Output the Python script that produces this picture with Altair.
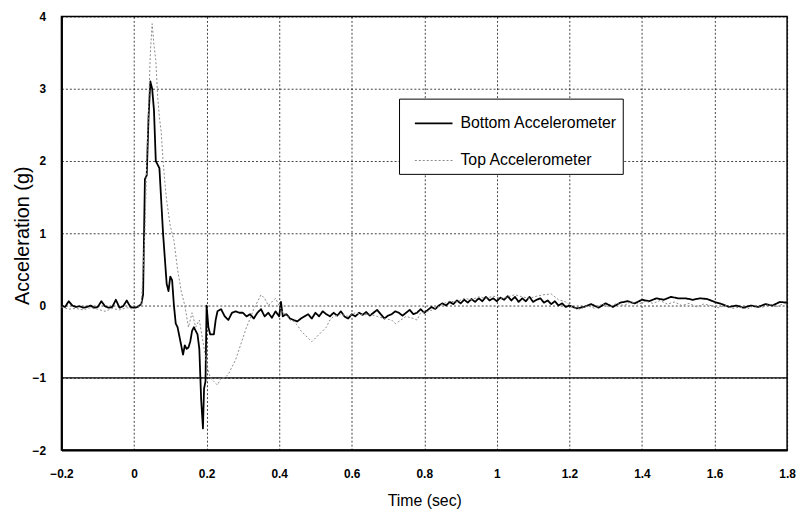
import altair as alt
import pandas as pd

series_names = ["Bottom Accelerometer", "Top Accelerometer"]
series_colors = ["#000000", "#8a8a8a"]

x_ticks = [-0.2, 0.0, 0.2, 0.4, 0.6, 0.8, 1.0, 1.2, 1.4, 1.6, 1.8]
y_ticks = [-2, -1, 0, 1, 2, 3, 4]
solid_line_level = [-1]

bottom_t = [-0.2, -0.19, -0.18, -0.17, -0.16, -0.15, -0.14, -0.13, -0.12, -0.11, -0.10,
            -0.09, -0.08, -0.07, -0.06, -0.05, -0.04, -0.03, -0.02, -0.01, 0.0, 0.01, 0.02,
            0.025, 0.03, 0.035, 0.04, 0.045, 0.05, 0.055, 0.06, 0.07, 0.08, 0.09, 0.095,
            0.1, 0.105, 0.11, 0.115, 0.12, 0.13, 0.135, 0.14, 0.145, 0.15, 0.155, 0.16,
            0.165, 0.17, 0.175, 0.18, 0.185, 0.19, 0.193, 0.197, 0.2, 0.205, 0.21, 0.22,
            0.225, 0.23, 0.24, 0.25, 0.26, 0.27, 0.28, 0.29, 0.30, 0.31, 0.32, 0.33, 0.34,
            0.35, 0.36, 0.37, 0.38, 0.39, 0.40, 0.405, 0.41, 0.42, 0.43, 0.44, 0.45, 0.46,
            0.47, 0.48, 0.49, 0.50, 0.51, 0.52, 0.53, 0.54, 0.55, 0.56, 0.57, 0.58, 0.59,
            0.60, 0.61, 0.62, 0.63, 0.64, 0.65, 0.66, 0.67, 0.68, 0.69, 0.70, 0.71, 0.72,
            0.73, 0.74, 0.75, 0.76, 0.77, 0.78, 0.79, 0.80, 0.81, 0.82, 0.83, 0.84, 0.85,
            0.86, 0.87, 0.88, 0.89, 0.90, 0.91, 0.92, 0.93, 0.94, 0.95, 0.96, 0.97, 0.98,
            0.99, 1.0, 1.01, 1.02, 1.03, 1.04, 1.05, 1.06, 1.07, 1.08, 1.09, 1.10, 1.11,
            1.12, 1.13, 1.14, 1.15, 1.16, 1.17, 1.18, 1.19, 1.20, 1.22, 1.24, 1.26, 1.28,
            1.30, 1.32, 1.34, 1.36, 1.38, 1.40, 1.42, 1.44, 1.46, 1.48, 1.50, 1.52, 1.54,
            1.56, 1.58, 1.60, 1.62, 1.64, 1.66, 1.68, 1.70, 1.72, 1.74, 1.76, 1.78, 1.80]
bottom_v = [0.0, -0.02, 0.06, 0.0, -0.02, -0.01, -0.03, -0.02, 0.0, -0.03, -0.02,
            0.06, -0.01, -0.03, -0.02, 0.08, -0.03, -0.01, 0.07, -0.02, -0.03, -0.02, 0.02,
            0.15, 1.75, 1.8, 2.6, 3.1, 3.0, 2.7, 2.0, 1.9, 1.0, 0.3, 0.2,
            0.4, 0.35, 0.0, -0.25, -0.3, -0.55, -0.68, -0.55, -0.6, -0.58, -0.5, -0.35,
            -0.3, -0.35, -0.4, -0.6, -1.3, -1.7, -1.15, -1.05, 0.0, -0.3, -0.4, -0.4,
            -0.2, -0.08, -0.05, -0.15, -0.2, -0.1, -0.08, -0.1, -0.1, -0.15, -0.12, -0.18, -0.1,
            -0.05, -0.15, -0.1, -0.17, -0.08, -0.15, 0.05, -0.15, -0.12, -0.18, -0.2, -0.22, -0.18,
            -0.15, -0.12, -0.18, -0.1, -0.15, -0.08, -0.12, -0.15, -0.1, -0.14, -0.08, -0.15, -0.18,
            -0.12, -0.15, -0.1, -0.13, -0.09, -0.14, -0.1, -0.06, -0.12, -0.18, -0.14, -0.12, -0.08,
            -0.1, -0.14, -0.1, -0.06, -0.12, -0.1, -0.05, -0.1, -0.06, -0.02, -0.05, 0.0, 0.03,
            0.0, 0.05, 0.02, 0.07, 0.03, 0.08, 0.04, 0.09, 0.05, 0.1, 0.06, 0.12, 0.07,
            0.1, 0.06, 0.11, 0.08, 0.13, 0.07, 0.12, 0.05, 0.1, 0.06, 0.12, 0.05, 0.08,
            0.1, 0.04, 0.07, 0.02, 0.06, 0.0, 0.03, -0.02, 0.0, -0.04, -0.02, 0.02, -0.03,
            0.03, -0.02, 0.04, 0.06, 0.03, 0.08, 0.06, 0.1, 0.08, 0.12, 0.1, 0.1, 0.08,
            0.1, 0.09, 0.05, 0.02, -0.02, 0.0, -0.03, 0.0, -0.02, 0.02, 0.0, 0.05, 0.04]

top_t = [-0.2, -0.18, -0.16, -0.14, -0.12, -0.10, -0.08, -0.06, -0.04, -0.02, 0.0, 0.02,
         0.03, 0.035, 0.04, 0.045, 0.05, 0.055, 0.06, 0.065, 0.07, 0.075, 0.08, 0.085, 0.09,
         0.1, 0.11, 0.12, 0.13, 0.14, 0.15, 0.16, 0.17, 0.18, 0.19, 0.2, 0.21, 0.22, 0.23,
         0.24, 0.25, 0.26, 0.27, 0.28, 0.29, 0.30, 0.31, 0.32, 0.33, 0.34, 0.35, 0.36, 0.37,
         0.38, 0.39, 0.40, 0.41, 0.42, 0.43, 0.44, 0.45, 0.46, 0.47, 0.48, 0.49, 0.50, 0.51,
         0.52, 0.53, 0.54, 0.55, 0.57, 0.59, 0.61, 0.63, 0.65, 0.67, 0.69, 0.71, 0.72, 0.73,
         0.75, 0.77, 0.78, 0.79, 0.81, 0.83, 0.85, 0.87, 0.89, 0.91, 0.93, 0.95, 0.97, 0.99,
         1.01, 1.03, 1.05, 1.07, 1.09, 1.11, 1.13, 1.15, 1.17, 1.19, 1.21, 1.23, 1.25, 1.27,
         1.29, 1.31, 1.33, 1.35, 1.37, 1.39, 1.41, 1.43, 1.45, 1.47, 1.49, 1.51, 1.53, 1.55,
         1.57, 1.59, 1.61, 1.63, 1.65, 1.67, 1.69, 1.71, 1.73, 1.75, 1.77, 1.79, 1.80]
top_v = [-0.02, -0.05, -0.04, -0.06, -0.03, -0.05, -0.08, -0.04, -0.06, -0.03, -0.05, 0.0,
         1.0, 2.0, 2.7, 3.5, 3.9, 3.6, 3.4, 2.9, 2.6, 2.4, 2.0, 1.7, 1.45,
         1.1, 0.9, 0.5, 0.2, 0.0, -0.3, -0.1, -0.3, -0.2, -0.5, -0.8, -1.0, -1.05, -1.1,
         -1.0, -1.0, -0.95, -0.85, -0.75, -0.6, -0.45, -0.3, -0.18, -0.05, 0.05, 0.15, 0.1, 0.0,
         0.05, 0.1, 0.0, -0.1, -0.12, -0.2, -0.22, -0.27, -0.35, -0.4, -0.45, -0.5, -0.45, -0.4,
         -0.35, -0.3, -0.2, -0.15, -0.12, -0.15, -0.1, -0.13, -0.12, -0.15, -0.18, -0.2, -0.25, -0.22,
         -0.15, -0.18, -0.2, -0.1, -0.08, -0.05, 0.02, 0.06, 0.05, 0.1, 0.08, 0.12, 0.1, 0.13,
         0.1, 0.12, 0.15, 0.12, 0.1, 0.13, 0.15, 0.16, 0.08, 0.05, -0.03, -0.05, 0.0, -0.04,
         0.02, -0.02, 0.03, 0.0, 0.05, 0.02, 0.06, 0.03, 0.07, 0.02, 0.05, 0.0, 0.03, -0.02,
         0.02, 0.0, -0.03, 0.0, -0.04, -0.02, -0.05, 0.0, -0.03, 0.02, -0.02, 0.03, 0.02]

df = pd.concat([
    pd.DataFrame({"t": bottom_t, "v": bottom_v, "s": series_names[0]}),
    pd.DataFrame({"t": top_t, "v": top_v, "s": series_names[1]}),
], ignore_index=True)

FONT = "Liberation Sans"

x_enc = alt.X("t:Q", scale=alt.Scale(domain=[-0.2, 1.8], nice=False, zero=False),
              axis=alt.Axis(values=x_ticks, title="Time (sec)", format="~g",
                            labelFlush=False, labelOverlap=False,
                            labelPadding=19, titlePadding=13, titleFontSize=16))
y_enc = alt.Y("v:Q", scale=alt.Scale(domain=[-2, 4], nice=False, zero=False),
              axis=alt.Axis(values=y_ticks, title="Acceleration (g)", format="~g",
                            labelFlush=False, labelOverlap=False, labelPadding=16,
                            titleFontSize=20, titleX=-29, titleY=221))

lines = alt.Chart(df).mark_line(strokeJoin="round").encode(
    x=x_enc,
    y=y_enc,
    color=alt.Color("s:N", scale=alt.Scale(domain=series_names, range=series_colors),
                    legend=alt.Legend(orient="none", legendX=341, legendY=83, title=None,
                                      strokeColor="black", fillColor="white", padding=5,
                                      labelFont=FONT, labelFontSize=16, labelColor="black",
                                      labelLimit=400, labelOffset=7, symbolType="stroke",
                                      symbolSize=1444, symbolOffset=10, rowPadding=10)),
    strokeDash=alt.StrokeDash("s:N", scale=alt.Scale(domain=series_names, range=[[1, 0], [2, 2]])),
    strokeWidth=alt.StrokeWidth("s:N", scale=alt.Scale(domain=series_names, range=[1.8, 1.0])),
)

rule_df = pd.DataFrame({"v": solid_line_level})
solid_rule = alt.Chart(rule_df).mark_rule(color="black", strokeWidth=1.3).encode(y=alt.Y("v:Q"))

chart = alt.layer(solid_rule, lines).properties(
    width=733, height=438,
    autosize=alt.AutoSizeParams(type="none"),
    padding={"left": 54, "top": 6, "right": 10, "bottom": 60},
).configure_view(
    stroke="black", strokeWidth=1.5
).configure_axis(
    grid=True, gridColor="black", gridDash=[2, 2], gridWidth=1, gridOpacity=0.75,
    domainColor="black", domainWidth=2, ticks=False,
    labelFont=FONT, labelFontWeight="bold", labelFontSize=12, labelColor="black",
    titleFont=FONT, titleFontWeight="normal", titleColor="black",
)

chart.save("out.html", embed_options={"renderer": "svg", "actions": False})
